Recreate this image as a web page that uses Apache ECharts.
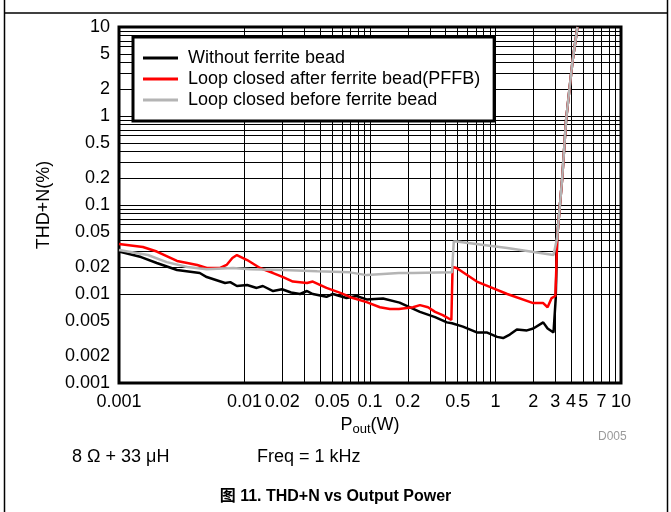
<!DOCTYPE html>
<html><head><meta charset="utf-8">
<script src="https://cdn.jsdelivr.net/npm/echarts@6/dist/echarts.min.js"></script>
<style>html,body{margin:0;padding:0;background:#fff}#c{width:671px;height:512px}</style>
</head><body><div id="c"></div>
<script>
const seriesNames = ['Without ferrite bead', 'Loop closed after ferrite bead(PFFB)', 'Loop closed before ferrite bead'];
const xTickLabels = [0.001, 0.01, 0.02, 0.05, 0.1, 0.2, 0.5, 1, 2, 3, 4, 5, 7, 10];
const yTickLabels = [0.001, 0.002, 0.005, 0.01, 0.02, 0.05, 0.1, 0.2, 0.5, 1, 2, 5, 10];
const gridMultipliers = [1, 2, 3, 4, 5, 6, 7, 8, 9];
const xDecades = [0.001, 0.01, 0.1, 1];
const yDecades = [0.001, 0.01, 0.1, 1];

const withoutBead = [[0.001,0.030],[0.0015,0.026],[0.002,0.0223],[0.0029,0.0186],[0.0044,0.0172],[0.005,0.0155],[0.007,0.0133],[0.0077,0.0136],[0.0087,0.0123],[0.0105,0.0126],[0.0125,0.0117],[0.014,0.0123],[0.0169,0.0108],[0.0199,0.0113],[0.0235,0.0104],[0.0277,0.0100],[0.0315,0.0108],[0.035,0.0100],[0.045,0.0093],[0.0506,0.0100],[0.065,0.0090],[0.078,0.0095],[0.094,0.0087],[0.127,0.0089],[0.172,0.0080],[0.25,0.0063],[0.33,0.0055],[0.41,0.0048],[0.45,0.0047],[0.55,0.0043],[0.71,0.0037],[0.85,0.0037],[1.03,0.0033],[1.15,0.0032],[1.3,0.0035],[1.48,0.0040],[1.78,0.0039],[2.0,0.0041],[2.4,0.0048],[2.6,0.0041],[2.9,0.0037],[3.0,0.0036],[3.02,0.009],[3.1,0.043],[3.4,0.2],[3.65,0.9],[4.12,4.26],[4.5,10]];
const afterBead = [[0.001,0.0365],[0.00155,0.0337],[0.002,0.030],[0.0029,0.0235],[0.0035,0.0223],[0.0042,0.0212],[0.005,0.0196],[0.0064,0.0196],[0.0072,0.0212],[0.008,0.0254],[0.0087,0.0274],[0.0105,0.0241],[0.0133,0.0196],[0.0169,0.0172],[0.0203,0.0155],[0.0243,0.0138],[0.0315,0.0133],[0.035,0.0138],[0.045,0.0117],[0.058,0.0103],[0.073,0.0090],[0.094,0.0081],[0.12,0.0071],[0.144,0.0068],[0.17,0.0068],[0.22,0.0071],[0.25,0.0075],[0.29,0.0071],[0.33,0.0063],[0.38,0.0058],[0.445,0.0051],[0.455,0.0201],[0.49,0.0196],[0.71,0.0138],[0.90,0.0120],[1.24,0.0100],[2.0,0.0079],[2.4,0.0079],[2.6,0.0071],[2.8,0.0090],[3.0,0.0095],[3.05,0.019],[3.1,0.043],[3.4,0.2],[3.65,0.9],[4.12,4.26],[4.5,10]];
const beforeBead = [[0.001,0.0312],[0.0017,0.0274],[0.0024,0.0228],[0.0035,0.0201],[0.005,0.0190],[0.0081,0.0196],[0.011,0.0190],[0.0203,0.0186],[0.038,0.0180],[0.069,0.0175],[0.094,0.0163],[0.127,0.0168],[0.17,0.0172],[0.22,0.0172],[0.45,0.0175],[0.465,0.0388],[0.49,0.0390],[1.24,0.0329],[2.9,0.0274],[3.0,0.0280],[3.1,0.043],[3.4,0.2],[3.65,0.9],[4.12,4.26],[4.5,10]];

const seriesColors = ['#000000', '#ff0000', '#b4b4b4'];
const FONT = 'Liberation Sans, Arial, sans-serif';

const gridX = [];
xDecades.forEach(d => gridMultipliers.forEach(m => gridX.push(d * m)));
gridX.push(10);
const gridY = [];
yDecades.forEach(d => gridMultipliers.forEach(m => gridY.push(d * m)));
gridY.push(10);

function nearestLabel(arr, v) {
  let best = arr[0], bd = Infinity;
  arr.forEach(a => { const d = Math.abs(Math.log10(a) - Math.log10(v)); if (d < bd) { bd = d; best = a; } });
  return String(best);
}

const chart = echarts.init(document.getElementById('c'), null, {renderer: 'canvas'});
chart.setOption({
  animation: false,
  backgroundColor: '#fff',
  grid: {left: 119, right: 50, top: 27, bottom: 129, show: true, borderColor: '#000', borderWidth: 3, backgroundColor: 'transparent'},
  legend: {
    orient: 'vertical', left: 133, top: 37, z: 50, zlevel: 0,
    padding: [12, 14, 12, 10], itemGap: 3, itemWidth: 35, itemHeight: 3, icon: 'rect',
    backgroundColor: '#fff', borderColor: '#000', borderWidth: 3,
    data: seriesNames,
    textStyle: {fontSize: 18, fontFamily: FONT, color: '#000', padding: [0, 0, 0, 5], lineHeight: 18}
  },
  xAxis: {
    type: 'log', logBase: 10, min: 0.001, max: 10,
    axisLine: {show: false}, axisTick: {show: false}, splitLine: {show: false},
    axisLabel: {customValues: xTickLabels, margin: 10, fontSize: 18, fontFamily: FONT, color: '#000', formatter: v => nearestLabel(xTickLabels, v)},
    name: '{p|P}{s|out}{p|(W)}', nameLocation: 'middle', nameGap: 30,
    nameTextStyle: {rich: {
      p: {fontSize: 18, fontFamily: FONT, color: '#000', lineHeight: 22, verticalAlign: 'middle'},
      s: {fontSize: 13, fontFamily: FONT, color: '#000', lineHeight: 22, verticalAlign: 'bottom', padding: [6, 0, 0, 0]}
    }}
  },
  yAxis: {
    type: 'log', logBase: 10, min: 0.001, max: 10,
    axisLine: {show: false}, axisTick: {show: false}, splitLine: {show: false},
    axisLabel: {customValues: yTickLabels, margin: 9, fontSize: 18, fontFamily: FONT, color: '#000', formatter: v => nearestLabel(yTickLabels, v)},
    name: 'THD+N(%)', nameLocation: 'middle', nameGap: 66,
    nameTextStyle: {fontSize: 18, fontFamily: FONT, color: '#000'}
  },
  series: [
    {
      name: '_grid', type: 'line', data: [[1, 1]], showSymbol: false, silent: true,
      lineStyle: {opacity: 0}, z: 1,
      markLine: {
        silent: true, symbol: ['none', 'none'], label: {show: false}, animation: false, z: 1,
        lineStyle: {color: '#000', width: 1, type: 'solid'},
        emphasis: {disabled: true},
        data: gridX.map(v => ({xAxis: v})).concat(gridY.map(v => ({yAxis: v})))
      }
    },
    {name: seriesNames[0], type: 'line', data: withoutBead, showSymbol: false, z: 3, lineStyle: {color: seriesColors[0], width: 2.5}, itemStyle: {color: seriesColors[0]}},
    {name: seriesNames[1], type: 'line', data: afterBead, showSymbol: false, z: 4, lineStyle: {color: seriesColors[1], width: 2.5}, itemStyle: {color: seriesColors[1]}},
    {name: seriesNames[2], type: 'line', data: beforeBead, showSymbol: false, z: 5, lineStyle: {color: seriesColors[2], width: 2.5}, itemStyle: {color: seriesColors[2]}}
  ],
  graphic: [
    {type: 'line', shape: {x1: 4.5, y1: 0, x2: 4.5, y2: 512}, style: {stroke: '#000', lineWidth: 1.5}},
    {type: 'line', shape: {x1: 667.5, y1: 0, x2: 667.5, y2: 512}, style: {stroke: '#000', lineWidth: 1.5}},
    {type: 'line', shape: {x1: 4, y1: 13, x2: 668, y2: 13}, style: {stroke: '#000', lineWidth: 1.5}},
    {type: 'text', left: 598, top: 431, style: {text: 'D005', fontSize: 12, fontFamily: FONT, fill: '#9a9a9a'}},
    {type: 'text', left: 72, top: 448, style: {text: '8 Ω + 33 μH', fontSize: 18, fontFamily: FONT, fill: '#000'}},
    {type: 'text', left: 257, top: 448, style: {text: 'Freq = 1 kHz', fontSize: 18, fontFamily: FONT, fill: '#000'}},
    {type: 'text', left: 'center', top: 489, style: {text: '图 11. THD+N vs Output Power', fontSize: 16, fontWeight: 'bold', fontFamily: 'Liberation Sans, Noto Sans CJK SC, sans-serif', fill: '#000'}}
  ]
});
</script>
</body></html>
